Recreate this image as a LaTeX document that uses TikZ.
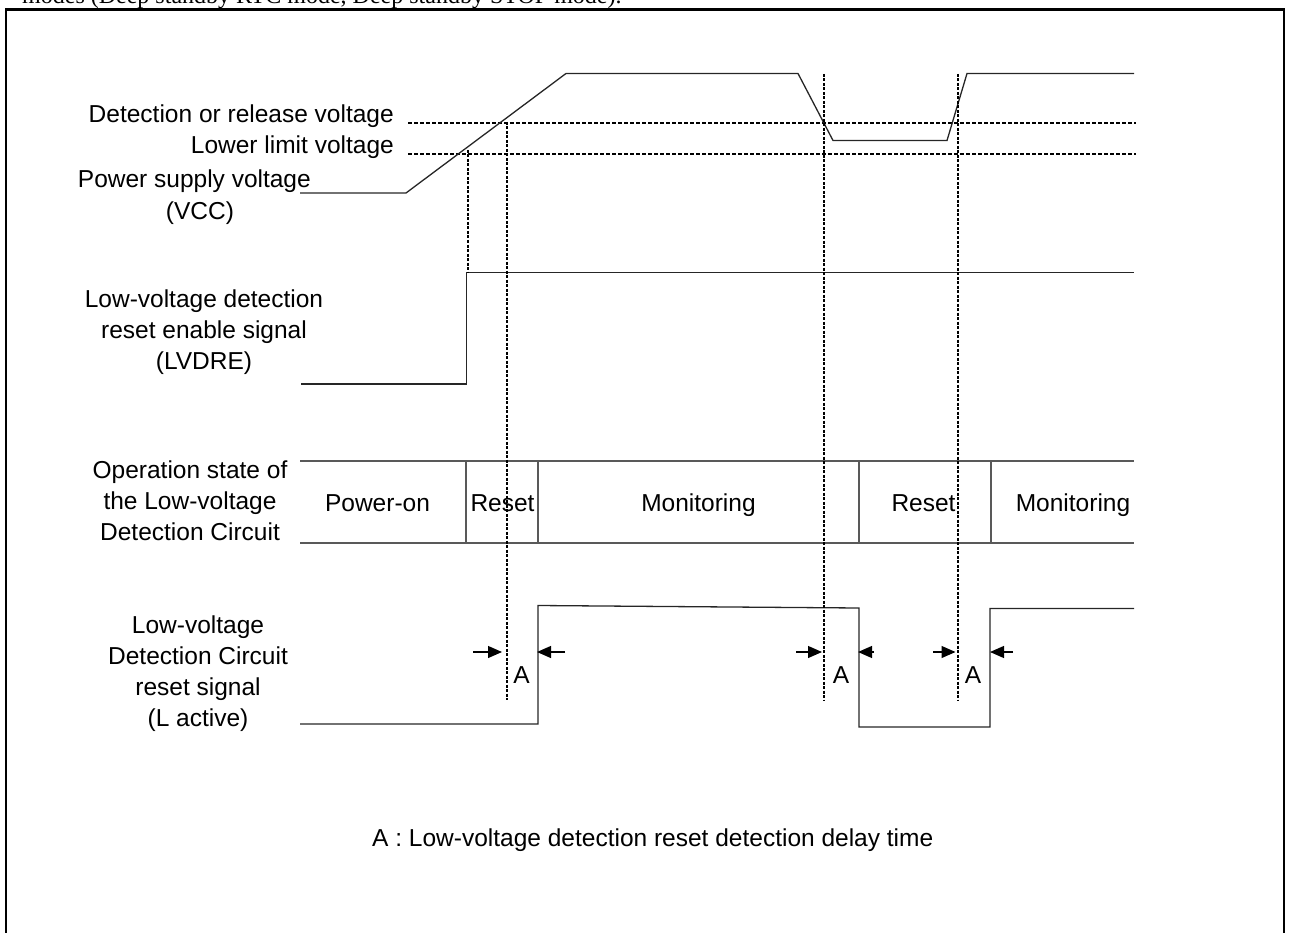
\documentclass[tikz,border=0pt]{standalone}
\usepackage{fontspec}
\setmainfont{Liberation Sans}
\newfontfamily\timesfont{Liberation Serif}
\usetikzlibrary{arrows.meta}
\begin{document}
\begin{tikzpicture}[x=1pt,y=-1pt,
  lbl/.style={font=\fontsize{24.5}{31}\selectfont, inner sep=0pt, align=center},
  wave/.style={line width=1.3pt, draw=black!85},
  boxline/.style={line width=1.4pt, draw=black!65},
  hdash/.style={line width=1.8pt, dash pattern=on 4pt off 2pt},
  vdash/.style={line width=2pt, dash pattern=on 3pt off 1.5pt},
  dimarrow/.style={line width=1.2pt, -{Triangle[length=14pt,width=12pt]}},
]
\useasboundingbox (0,0) rectangle (1289,933);
% cut-off heading and frame
\node[anchor=base west, inner sep=0pt, font=\timesfont\fontsize{24}{28}\selectfont] (head) at (22,3.5) {modes (Deep standby RTC mode, Deep standby STOP mode).};
\draw[line width=2.2pt] (6,945) -- (6,9.5) -- (1284,9.5) -- (1284,945);

% ---------- VCC ----------
\node[lbl, anchor=base east] (det) at (394,123) {Detection or release voltage};
\node[lbl, anchor=base east] (lowl) at (394,154) {Lower limit voltage};
\node[lbl, anchor=base east] (vcc) at (311,188) {Power supply voltage};
\node[lbl, anchor=base] (vcc2) at (200,220) {(VCC)};
\draw[hdash] (408,123) -- (1136,123);
\draw[hdash] (408,154) -- (1136,154);
\draw[wave] (300,193) -- (406,193) -- (566,73.5) -- (798,73.5) -- (833,140.5) -- (947,140.5) -- (967,73.5) -- (1134,73.5);

% ---------- LVDRE ----------
\node[lbl, anchor=base] (lvdre) at (204,369) {Low-voltage detection\\reset enable signal\\(LVDRE)};
\draw[wave] (301,384) -- (466.5,384) -- (466.5,272.5) -- (1134,272.5);

% ---------- operation state ----------
\node[lbl, anchor=base] (ops) at (190,540) {Operation state of\\the Low-voltage\\Detection Circuit};
\draw[boxline] (300,461) -- (1134,461);
\draw[boxline] (300,543) -- (1134,543);
\foreach \xx in {466,538,859,991} \draw[boxline] (\xx,461) -- (\xx,543);
\node[lbl, anchor=base] (s1) at (377.5,511) {Power-on};
\node[lbl, anchor=base] (s2) at (502.5,511) {Reset};
\node[lbl, anchor=base] (s3) at (698.5,511) {Monitoring};
\node[lbl, anchor=base] (s4) at (923.5,511) {Reset};
\node[lbl, anchor=base] (s5) at (1073,511) {Monitoring};

% ---------- reset signal ----------
\node[lbl, anchor=base] (rst) at (198,726) {Low-voltage\\Detection Circuit\\reset signal\\(L active)};
\draw[wave] (300,724) -- (538,724) -- (538,605.5) -- (859,608) -- (859,727) -- (990,727) -- (990,608.5) -- (1134,608.5);

% ---------- vertical dashed markers ----------
\draw[vdash] (468,150) -- (468,272);
\draw[vdash] (507,122) -- (507,700);
\draw[vdash] (824,74) -- (824,701);
\draw[vdash] (957.5,74) -- (957.5,701);

% ---------- delay arrows ----------
\coordinate (a1l) at (473,652); \coordinate (a1lt) at (502,652);
\coordinate (a1r) at (565,652); \coordinate (a1rt) at (537,652);
\coordinate (a2l) at (796,652); \coordinate (a2lt) at (822,652);
\coordinate (a2r) at (874,652); \coordinate (a2rt) at (858,652);
\coordinate (a3l) at (933,652); \coordinate (a3lt) at (955.5,652);
\coordinate (a3r) at (1013,652); \coordinate (a3rt) at (990,652);
\draw[dimarrow] (a1l) -- (a1lt);
\draw[dimarrow] (a1r) -- (a1rt);
\draw[dimarrow] (a2l) -- (a2lt);
\draw[dimarrow] (a2r) -- (a2rt);
\draw[dimarrow] (a3l) -- (a3lt);
\draw[dimarrow] (a3r) -- (a3rt);
\node[lbl, anchor=base] (A1) at (521.5,683) {A};
\node[lbl, anchor=base] (A2) at (841,683) {A};
\node[lbl, anchor=base] (A3) at (973,683) {A};

% ---------- caption ----------
\node[lbl, anchor=base west] (cap) at (372,846) {A : Low-voltage detection reset detection delay time};
\end{tikzpicture}
\end{document}
